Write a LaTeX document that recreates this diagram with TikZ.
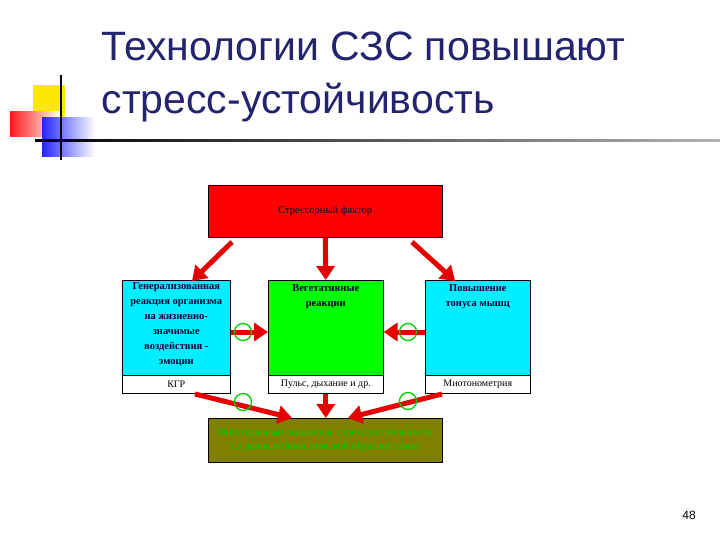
\documentclass[tikz,border=0pt]{standalone}
\usepackage{fontspec}
\setmainfont{Liberation Serif}
\newfontfamily\titlefont{Liberation Sans}
\usetikzlibrary{arrows.meta}
\definecolor{tblue}{RGB}{35,35,110}
\definecolor{cyanb}{RGB}{0,238,255}
\definecolor{olive2}{RGB}{128,128,0}
\tikzset{
 box/.style={draw=black,line width=0.6pt,inner sep=0pt},
 rarrow/.style={draw=red!90!black,line width=5pt,-{Triangle[length=14pt,width=18pt]}},
 ring/.style={draw=green!80!black,line width=1.3pt,fill=none},
 lbl/.style={font=\fontsize{10.5}{15}\selectfont\bfseries,align=center,text=black!80!blue}
}
\begin{document}
\begin{tikzpicture}[x=1pt,y=-1pt]
\useasboundingbox (0,0) rectangle (720,540);
% logo
\fill[yellow!90!orange] (33,85) rectangle (65,117);
\shade[left color=red!90,right color=white] (10,112) rectangle (60,137);
\shade[left color=blue!85,right color=white] (42,118) rectangle (95,157);
\draw[black,line width=1.5pt] (61,75) -- (61,160);
\shade[left color=black,right color=gray!60] (35,140) rectangle (720,142);
% title
\node[anchor=west,font=\titlefont\fontsize{41}{53}\selectfont,text=tblue,align=left] (title) at (98,77) {Технологии СЗС повышают\\стресс-устойчивость};
\node[font=\titlefont\fontsize{12}{13}\selectfont] (num) at (689,515) {48};
% boxes
\node[box,fill=red,minimum width=234,minimum height=52,anchor=north west,font=\fontsize{10.5}{11}\selectfont,text=black!80!blue] (top) at (208,185) {Стрессорный фактор};
\node[box,fill=cyanb,minimum width=108,minimum height=95,anchor=north west] (L) at (122,280) {};
\node[lbl,anchor=north] (Lt) at ([yshift=1]L.north) {Генерализованная\\реакция организма\\на жизненно-\\значимые\\воздействия -\\эмоции};
\node[box,fill=white,minimum width=108,minimum height=18,anchor=north west,font=\fontsize{10}{11}\selectfont] (Lb) at (122,375) {КГР};
\node[box,fill=green,minimum width=115,minimum height=95,anchor=north west] (M) at (268,280) {};
\node[lbl,anchor=north] (Mt) at ([yshift=-1]M.north) {Вегетативные\\реакции};
\node[box,fill=white,minimum width=115,minimum height=18,anchor=north west,font=\fontsize{10}{11}\selectfont] (Mb) at (268,375) {Пульс, дыхание и др.};
\node[box,fill=cyanb,minimum width=105,minimum height=95,anchor=north west] (R) at (425,280) {};
\node[lbl,anchor=north] (Rt) at ([yshift=-1]R.north) {Повышение\\тонуса мышц};
\node[box,fill=white,minimum width=105,minimum height=18,anchor=north west,font=\fontsize{10}{11}\selectfont] (Rb) at (425,375) {Миотонометрия};
\node[box,fill=olive2,minimum width=234,minimum height=44,anchor=north west,align=center,text=green!80!black,font=\fontsize{10.5}{14}\selectfont] (B) at (208,418) {Интегральный показатель стрессоустойчивости\\по данным биологической обратной связи};
% arrows
\coordinate (tl) at (232,242); \coordinate (tr) at (412,242);
\coordinate (tlx) at (192,281); \coordinate (trx) at (455,281);
\draw[rarrow] (top.south) -- (M.north);
\draw[rarrow] (tl) -- (tlx);
\draw[rarrow] (tr) -- (trx);
\draw[rarrow] (L.east |- 0,332) -- (M.west |- 0,332);
\draw[rarrow] (R.west |- 0,332) -- (M.east |- 0,332);
\coordinate (bl) at (292,418); \coordinate (br) at (348,418);
\coordinate (s1) at (195,394); \coordinate (s2) at (442,394);
\draw[rarrow] (s1) -- (bl);
\draw[rarrow] (Mb.south) -- (B.north -| Mb.south);
\draw[rarrow] (s2) -- (br);
% rings
\node[ring,circle,minimum size=17,inner sep=0] (c1) at (243,332) {};
\node[ring,circle,minimum size=17,inner sep=0] (c2) at (408,332) {};
\node[ring,circle,minimum size=17,inner sep=0] (c3) at (243,402) {};
\node[ring,circle,minimum size=17,inner sep=0] (c4) at (408,401) {};
\end{tikzpicture}
\end{document}
